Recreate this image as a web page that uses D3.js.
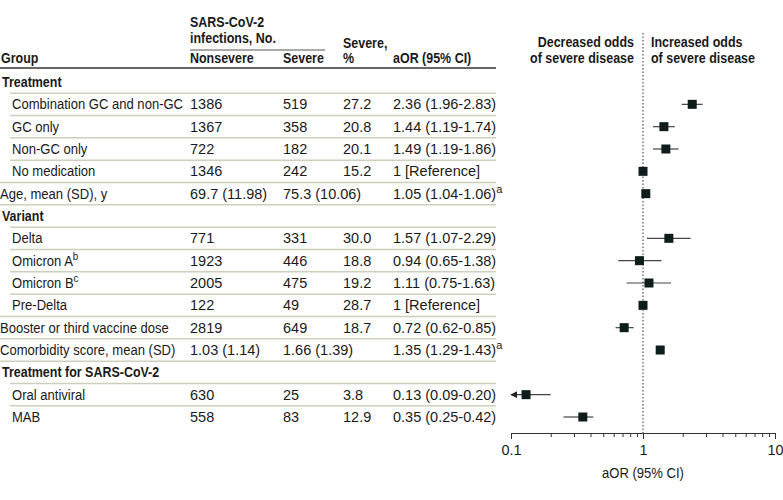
<!DOCTYPE html>
<html>
<head>
<meta charset="utf-8">
<script src="https://cdn.jsdelivr.net/npm/d3@7"></script>
<style>
  body { margin: 0; background: white; }
  svg text { font-family: "Liberation Sans", Arial, sans-serif; font-size: 14.5px; fill: #1a1a1a; }
  .b { font-weight: bold; }
</style>
</head>
<body>
<div id="chart"></div>
<script>
// row data, top to bottom
const labels = ["Treatment", "Combination GC and non-GC", "GC only", "Non-GC only", "No medication",
  "Age, mean (SD), y", "Variant", "Delta", "Omicron A", "Omicron B", "Pre-Delta",
  "Booster or third vaccine dose", "Comorbidity score, mean (SD)", "Treatment for SARS-CoV-2",
  "Oral antiviral", "MAB"]
const labelSup = ["", "", "", "", "", "", "", "", "b", "c", "", "", "", "", "", ""]
// 0 = section heading, 1 = sub row, 2 = top level row
const rowKind = [0, 1, 1, 1, 1, 2, 0, 1, 1, 1, 1, 2, 2, 0, 1, 1]
const nonsevere = ["", "1386", "1367", "722", "1346", "69.7 (11.98)", "", "771", "1923", "2005", "122",
  "2819", "1.03 (1.14)", "", "630", "558"]
const severe = ["", "519", "358", "182", "242", "75.3 (10.06)", "", "331", "446", "475", "49",
  "649", "1.66 (1.39)", "", "25", "83"]
const severePct = ["", "27.2", "20.8", "20.1", "15.2", "", "", "30.0", "18.8", "19.2", "28.7",
  "18.7", "", "", "3.8", "12.9"]
const aorText = ["", "2.36 (1.96-2.83)", "1.44 (1.19-1.74)", "1.49 (1.19-1.86)", "1 [Reference]",
  "1.05 (1.04-1.06)", "", "1.57 (1.07-2.29)", "0.94 (0.65-1.38)", "1.11 (0.75-1.63)", "1 [Reference]",
  "0.72 (0.62-0.85)", "1.35 (1.29-1.43)", "", "0.13 (0.09-0.20)", "0.35 (0.25-0.42)"]
const aorSup = ["", "", "", "", "", "a", "", "", "", "", "", "", "a", "", "", ""]
const aor = [null, 2.36, 1.44, 1.49, 1, 1.05, null, 1.57, 0.94, 1.11, 1, 0.72, 1.35, null, 0.13, 0.35]
const lower = [null, 1.96, 1.19, 1.19, 1, 1.04, null, 1.07, 0.65, 0.75, 1, 0.62, 1.29, null, 0.09, 0.25]
const upper = [null, 2.83, 1.74, 1.86, 1, 1.06, null, 2.29, 1.38, 1.63, 1, 0.85, 1.43, null, 0.20, 0.42]
const tickValues = [0.1, 1, 10]

const width = 783, height = 500
const narrow = 0.9, narrowBold = 0.86

const svg = d3.select("#chart").append("svg")
  .attr("width", width)
  .attr("height", height)

const y = d3.scalePoint()
  .domain(d3.range(labels.length))
  .range([82, 417])
const step = y.step()

const x = d3.scaleLog()
  .domain([0.1, 10])
  .range([511, 775])

const cols = { nonsevere: 190, severe: 283, pct: 343, aor: 393 }

// condensed text helper (the source uses a narrow face)
function ctext(parent, tx, ty, str, sx, cls, anchor) {
  return parent.append("text")
    .attr("class", cls || null)
    .attr("text-anchor", anchor || "start")
    .attr("transform", `translate(${tx},${ty}) scale(${sx},1)`)
    .text(str)
}

// header
const head = svg.append("g")
ctext(head, cols.nonsevere, 27, "SARS-CoV-2", narrowBold, "b")
ctext(head, cols.nonsevere, 43, "infections, No.", narrowBold, "b")
ctext(head, cols.pct, 48, "Severe,", narrowBold, "b")
ctext(head, 1, 63, "Group", narrowBold, "b")
ctext(head, cols.nonsevere, 63, "Nonsevere", narrowBold, "b")
ctext(head, cols.severe, 63, "Severe", narrowBold, "b")
ctext(head, cols.pct, 63, "%", narrowBold, "b")
ctext(head, cols.aor, 63, "aOR (95% CI)", narrowBold, "b")

svg.append("line")
  .attr("x1", cols.nonsevere).attr("x2", 325)
  .attr("y1", 50).attr("y2", 50)
  .attr("stroke", "#555").attr("stroke-width", 1)

// row separators
const seps = d3.range(1, labels.length)
svg.append("g").selectAll("line")
  .data(seps)
  .join("line")
  .attr("x1", i => rowKind[i] === 1 ? 10 : 0)
  .attr("x2", 496)
  .attr("y1", i => y(i) - step / 2)
  .attr("y2", i => y(i) - step / 2)
  .attr("stroke", "#cfcfbd")
  .attr("stroke-width", 1.5)

svg.append("line")
  .attr("x1", 0).attr("x2", 496)
  .attr("y1", 68).attr("y2", 68)
  .attr("stroke", "#666").attr("stroke-width", 2)

// table rows
const rows = svg.append("g").selectAll("g")
  .data(d3.range(labels.length))
  .join("g")
  .attr("transform", i => `translate(0,${y(i) + 5})`)

const lab = rows.append("text")
  .attr("class", i => rowKind[i] === 0 ? "b" : null)
  .attr("transform", i => {
    const lx = rowKind[i] === 1 ? 12 : (rowKind[i] === 0 ? 2 : 0)
    return `translate(${lx},0) scale(${rowKind[i] === 0 ? narrowBold : narrow},1)`
  })
  .text(i => labels[i])
lab.filter(i => labelSup[i]).append("tspan")
  .attr("dy", -6).style("font-size", "11px")
  .text(i => labelSup[i])

rows.append("text").attr("x", cols.nonsevere).text(i => nonsevere[i])
rows.append("text").attr("x", cols.severe).text(i => severe[i])
rows.append("text").attr("x", cols.pct).text(i => severePct[i])
const aorT = rows.append("text").attr("x", cols.aor).text(i => aorText[i])
aorT.filter(i => aorSup[i]).append("tspan")
  .attr("dy", -6).style("font-size", "11px")
  .text(i => aorSup[i])

// forest plot
ctext(svg, 634, 47, "Decreased odds", narrowBold, "b", "end")
ctext(svg, 634, 63, "of severe disease", narrowBold, "b", "end")
ctext(svg, 651, 47, "Increased odds", narrowBold, "b")
ctext(svg, 651, 63, "of severe disease", narrowBold, "b")

svg.append("line")
  .attr("x1", x(1)).attr("x2", x(1))
  .attr("y1", 33).attr("y2", 433)
  .attr("stroke", "#333").attr("stroke-width", 1)
  .attr("stroke-dasharray", "1.5,2")

svg.append("defs").append("marker")
  .attr("id", "arrow")
  .attr("viewBox", "0 0 10 10")
  .attr("refX", 9).attr("refY", 5)
  .attr("markerWidth", 6).attr("markerHeight", 6)
  .attr("orient", "auto-start-reverse")
  .append("path").attr("d", "M0,0L10,5L0,10Z").attr("fill", "#222")

const pts = d3.range(labels.length).filter(i => aor[i] !== null)
const dom = x.domain()

svg.append("g").selectAll("line")
  .data(pts.filter(i => upper[i] - lower[i] > 0.03))
  .join("line")
  .attr("x1", i => x(Math.max(lower[i], dom[0])))
  .attr("x2", i => x(upper[i]))
  .attr("y1", i => y(i)).attr("y2", i => y(i))
  .attr("stroke", "#444").attr("stroke-width", 1.2)
  .attr("marker-start", i => lower[i] < dom[0] ? "url(#arrow)" : null)

const sq = 9
svg.append("g").selectAll("rect")
  .data(pts)
  .join("rect")
  .attr("x", i => x(aor[i]) - sq / 2)
  .attr("y", i => y(i) - sq / 2)
  .attr("width", sq).attr("height", sq)
  .attr("fill", "#0e1c1c")

// axis
const minor = []
for (const base of [0.1, 1]) for (let k = 2; k <= 9; k++) minor.push(+(base * k).toFixed(2))

const axis = svg.append("g").attr("transform", "translate(0,433)")
axis.append("g")
  .call(d3.axisBottom(x).tickValues(minor).tickSize(4).tickFormat(""))
  .call(g => g.select(".domain").remove())
axis.append("g")
  .call(d3.axisBottom(x).tickValues(tickValues).tickSize(6).tickSizeOuter(0)
    .tickFormat(d3.format("~g")))
axis.selectAll("line, path").attr("stroke", "#333")
axis.selectAll("text")
  .style("font-family", "'Liberation Sans', Arial, sans-serif")
  .style("font-size", "14.5px").attr("fill", "#1a1a1a").attr("dy", "0.9em")

ctext(svg, x(1), 478, "aOR (95% CI)", narrow, null, "middle")
</script>
</body>
</html>
